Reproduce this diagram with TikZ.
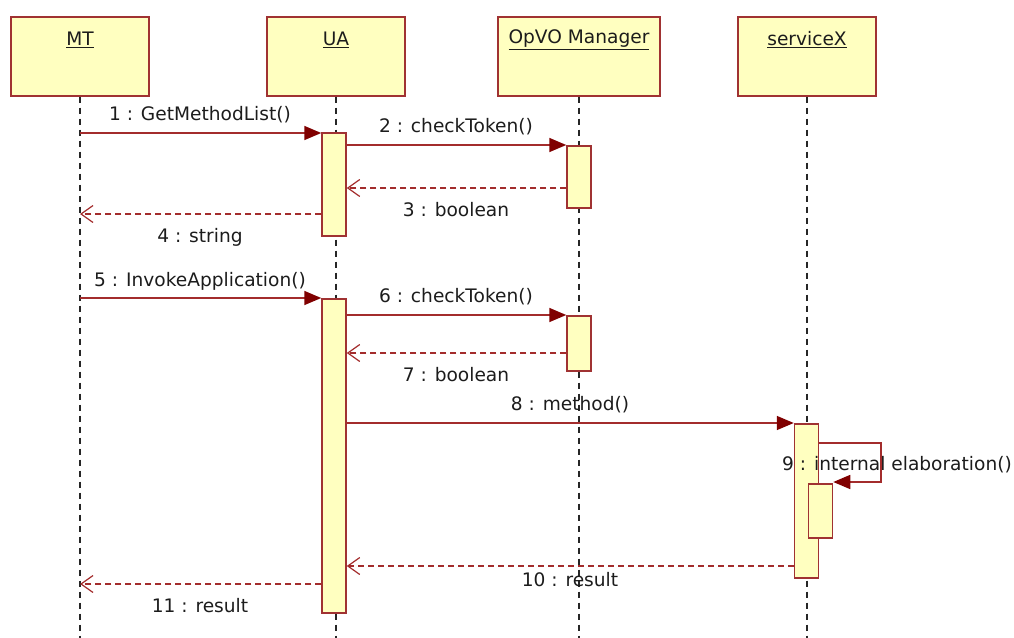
\documentclass[tikz,border=0pt]{standalone}
\usepackage{fontspec}
\setmainfont{DejaVu Sans}
\usetikzlibrary{arrows.meta}
\definecolor{boxfill}{HTML}{FFFFC0}
\definecolor{boxline}{HTML}{A03232}
\definecolor{msgline}{HTML}{A32C2C}
\definecolor{tipred}{HTML}{800000}
\definecolor{txt}{HTML}{1C1C1C}
\begin{document}
\begin{tikzpicture}[x=1pt,y=-1pt,
  font=\fontsize{18.6}{21}\selectfont,
  actor/.style={draw=boxline,fill=boxfill,line width=1.5pt,minimum height=79pt,inner sep=0pt,anchor=north},
  actorname/.style={text=txt,inner sep=1pt},
  lifeline/.style={draw=black!85,line width=1.3pt,dash pattern=on 6pt off 5pt},
  bar/.style={draw=boxline,fill=boxfill,line width=1.5pt,minimum width=24pt,inner sep=0pt,anchor=north},
  call/.style={draw=msgline,line width=1.6pt,-{Triangle[length=17pt,width=14pt,fill=tipred,color=tipred]}},
  reply/.style={draw=msgline,line width=1.6pt,dash pattern=on 6pt off 4pt,-{Straight Barb[length=12pt,width=17pt,line width=1.2pt,color=msgline]}},
  msg/.style={text=txt,inner sep=1pt}
]
\useasboundingbox (0,0) rectangle (1014,637);

% participants
\node[actor,minimum width=138pt] (mt)  at (80,16)  {};
\node[actor,minimum width=138pt] (ua)  at (336,16) {};
\node[actor,minimum width=162pt] (op)  at (579,16) {};
\node[actor,minimum width=138pt] (sx)  at (807,16) {};
\node[actorname] (mtn) at (80,40)  {\underline{MT}};
\node[actorname] (uan) at (336,40) {\underline{UA}};
\node[actorname] (opn) at (579,40) {\underline{OpVO Manager}};
\node[actorname] (sxn) at (807,40) {\underline{serviceX}};

% lifelines
\coordinate (mtend) at (80,640);
\coordinate (uaend) at (336,640);
\coordinate (opend) at (579,640);
\coordinate (sxend) at (807,640);
\draw[lifeline] (mt.south) -- (mtend);
\draw[lifeline] (ua.south) -- (uaend);
\draw[lifeline] (op.south) -- (opend);
\draw[lifeline] (sx.south) -- (sxend);

% activation bars
\node[bar,minimum height=103pt] (ua1) at (334,132) {};
\node[bar,minimum height=62pt]  (op1) at (579,145) {};
\node[bar,minimum height=314pt] (ua2) at (334,298) {};
\node[bar,minimum height=55pt]  (op2) at (579,315) {};
\node[bar,minimum height=154pt] (sx1) at (806.5,423) {};
\node[bar,minimum height=54pt]  (sx2) at (820.5,483) {};

% message end points
\coordinate (m1s) at (80,133);
\coordinate (m4e) at (80,214);
\coordinate (m5s) at (80,298);
\coordinate (m11e) at (80,584);
\coordinate (m9a) at (881,443);
\coordinate (m9b) at (881,482);

% messages
\draw[call]  (m1s) -- (ua1.west |- m1s);
\draw[call]  (ua1.east |- op1.north) -- (op1.north west);
\draw[reply] (op1.west |- 0,188) -- (ua1.east |- 0,188);
\draw[reply] (ua1.west |- m4e) -- (m4e);
\draw[call]  (m5s) -- (ua2.north west);
\draw[call]  (ua2.east |- op2.north) -- (op2.north west);
\draw[reply] (op2.west |- 0,353) -- (ua2.east |- 0,353);
\draw[call]  (ua2.east |- sx1.north) -- (sx1.north west);
\draw[call]  (sx1.east |- m9a) -- (m9a) -- (m9b) -- (sx2.east |- m9b);
\draw[reply] (sx1.west |- 0,566) -- (ua2.east |- 0,566);
\draw[reply] (ua2.west |- m11e) -- (m11e);

% message labels
\node[msg] (l1)  at (200,115) {1 : GetMethodList()};
\node[msg] (l2)  at (456,127) {2 : checkToken()};
\node[msg] (l3)  at (456,210) {3 : boolean};
\node[msg] (l4)  at (200,237) {4 : string};
\node[msg] (l5)  at (200,281) {5 : InvokeApplication()};
\node[msg] (l6)  at (456,297) {6 : checkToken()};
\node[msg] (l7)  at (456,375) {7 : boolean};
\node[msg] (l8)  at (570,405) {8 : method()};
\node[msg] (l9)  at (897,465) {9 : internal elaboration()};
\node[msg] (l10) at (570,580) {10 : result};
\node[msg] (l11) at (200,606) {11 : result};
\end{tikzpicture}
\end{document}
